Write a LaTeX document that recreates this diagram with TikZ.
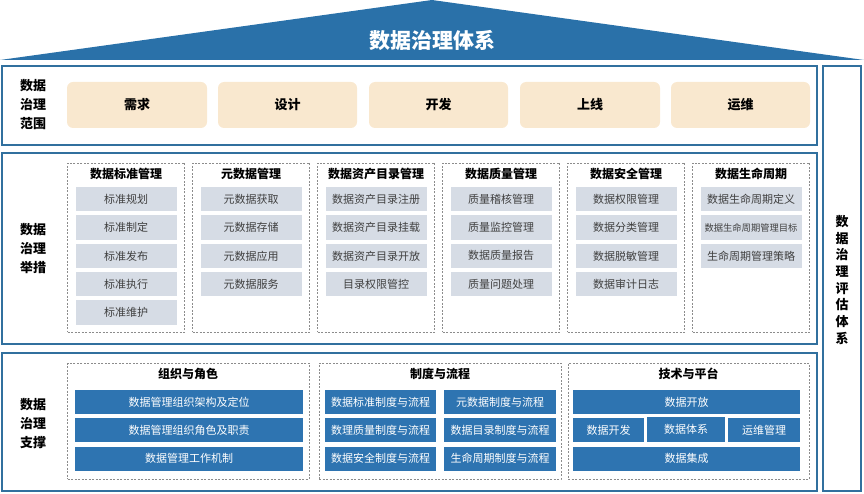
\documentclass[tikz,border=0pt]{standalone}
\usepackage{fontspec}
\setmainfont{Noto Sans CJK SC}
\definecolor{frameblue}{HTML}{31709E}
\definecolor{roofblue}{HTML}{2A71A9}
\definecolor{barblue}{HTML}{2E74B1}
\definecolor{itemgrey}{HTML}{D6DCE5}
\definecolor{beige}{HTML}{F9E8CF}
\definecolor{textgrey}{HTML}{404040}
\definecolor{dashgrey}{HTML}{8C8C8C}
\newcommand\mybox[7]{\node[#6, minimum width={(#4)-(#2)}, minimum height={(#5)-(#3)}] (#1) at ({((#2)+(#4))/2},{((#3)+(#5))/2}) {#7};}
\tikzset{
  base/.style={inner sep=0pt, outer sep=0pt, rectangle},
  frame/.style={base, draw=frameblue, line width=2.4pt},
  scopebox/.style={base, fill=beige, rounded corners=6pt, font=\fontsize{13}{15}\selectfont\bfseries},
  groupbox/.style={base, draw=dashgrey, line width=0.7pt, dash pattern=on 2pt off 1.5pt},
  header/.style={inner sep=0pt, font=\fontsize{12}{14}\selectfont\bfseries},
  greyitem/.style={base, fill=itemgrey, text=textgrey, font=\fontsize{11}{13}\selectfont},
  blueitem/.style={base, fill=barblue, text=white, font=\fontsize{11}{13}\selectfont},
  rowlabel/.style={inner sep=0pt, align=center, font=\fontsize{13}{19}\selectfont\bfseries},
}
\begin{document}
\begin{tikzpicture}[x=1pt,y=-1pt]
\useasboundingbox (0,0) rectangle (864,494);
% roof
\fill[roofblue] (0,60) -- (432,0) -- (864,60) -- cycle;
\node[inner sep=0pt, text=white, font=\fontsize{21}{24}\selectfont\bfseries] (title) at (432,40) {数据治理体系};
% frames
\mybox{f1}{2.2}{66.2}{816.8}{144.8}{frame}{}
\mybox{f2}{2.2}{153.2}{816.8}{343.8}{frame}{}
\mybox{f3}{2.2}{353.2}{816.8}{490.8}{frame}{}
\mybox{f4}{823.2}{66.2}{860.8}{490.8}{frame}{}
\node[rowlabel] (l1) at (33,105) {数据\\治理\\范围};
\node[rowlabel] (l2) at (33,249) {数据\\治理\\举措};
\node[rowlabel] (l3) at (33,424) {数据\\治理\\支撑};
\node[rowlabel, font=\fontsize{13}{16.7}\selectfont\bfseries] (l4) at (842,280) {数\\据\\治\\理\\评\\估\\体\\系};
% scope
\mybox{s1}{67}{82}{207}{128}{scopebox}{需求}
\mybox{s2}{218}{82}{357}{128}{scopebox}{设计}
\mybox{s3}{369}{82}{508}{128}{scopebox}{开发}
\mybox{s4}{520}{82}{660}{128}{scopebox}{上线}
\mybox{s5}{671}{82}{810}{128}{scopebox}{运维}
% measures
\mybox{g1}{67.5}{163}{184.5}{332}{groupbox}{}
\mybox{g2}{192.5}{163}{309.5}{332}{groupbox}{}
\mybox{g3}{317.5}{163}{434.5}{332}{groupbox}{}
\mybox{g4}{442.5}{163}{559.5}{332}{groupbox}{}
\mybox{g5}{567.5}{163}{684.5}{332}{groupbox}{}
\mybox{g6}{692.5}{163}{809.5}{332}{groupbox}{}
\node[header] (h1) at (126,174) {数据标准管理};
\node[header] (h2) at (251,174) {元数据管理};
\node[header] (h3) at (376,174) {数据资产目录管理};
\node[header] (h4) at (501,174) {数据质量管理};
\node[header] (h5) at (626,174) {数据安全管理};
\node[header] (h6) at (751,174) {数据生命周期};
% column 1
\mybox{a1}{75.5}{187}{176.5}{211.5}{greyitem}{标准规划}
\mybox{a2}{75.5}{215.3}{176.5}{239.8}{greyitem}{标准制定}
\mybox{a3}{75.5}{243.6}{176.5}{268.1}{greyitem}{标准发布}
\mybox{a4}{75.5}{271.9}{176.5}{296.4}{greyitem}{标准执行}
\mybox{a5}{75.5}{300.2}{176.5}{324.7}{greyitem}{标准维护}
% column 2
\mybox{b1}{200.5}{187}{301.5}{211.5}{greyitem}{元数据获取}
\mybox{b2}{200.5}{215.3}{301.5}{239.8}{greyitem}{元数据存储}
\mybox{b3}{200.5}{243.6}{301.5}{268.1}{greyitem}{元数据应用}
\mybox{b4}{200.5}{271.9}{301.5}{296.4}{greyitem}{元数据服务}
% column 3
\mybox{c1}{325.5}{187}{426.5}{211.5}{greyitem}{数据资产目录注册}
\mybox{c2}{325.5}{215.3}{426.5}{239.8}{greyitem}{数据资产目录挂载}
\mybox{c3}{325.5}{243.6}{426.5}{268.1}{greyitem}{数据资产目录开放}
\mybox{c4}{325.5}{271.9}{426.5}{296.4}{greyitem}{目录权限管控}
% column 4
\mybox{d1}{450.5}{187}{551.5}{211.5}{greyitem}{质量稽核管理}
\mybox{d2}{450.5}{215.3}{551.5}{239.8}{greyitem}{质量监控管理}
\mybox{d3}{450.5}{243.6}{551.5}{268.1}{greyitem}{数据质量报告}
\mybox{d4}{450.5}{271.9}{551.5}{296.4}{greyitem}{质量问题处理}
% column 5
\mybox{e1}{575.5}{187}{676.5}{211.5}{greyitem}{数据权限管理}
\mybox{e2}{575.5}{215.3}{676.5}{239.8}{greyitem}{数据分类管理}
\mybox{e3}{575.5}{243.6}{676.5}{268.1}{greyitem}{数据脱敏管理}
\mybox{e4}{575.5}{271.9}{676.5}{296.4}{greyitem}{数据审计日志}
% column 6
\mybox{k1}{700.5}{187}{801.5}{211.5}{greyitem}{数据生命周期定义}
\mybox{k2}{700.5}{215.3}{801.5}{239.8}{greyitem, font=\fontsize{9.3}{11}\selectfont}{数据生命周期管理目标}
\mybox{k3}{700.5}{243.6}{801.5}{268.1}{greyitem}{生命周期管理策略}
% support
\mybox{p1}{67.5}{363}{309}{479}{groupbox}{}
\mybox{p2}{319}{363}{561}{479}{groupbox}{}
\mybox{p3}{568}{363}{809}{479}{groupbox}{}
\node[header] (ph1) at (188,374) {组织与角色};
\node[header] (ph2) at (440,374) {制度与流程};
\node[header] (ph3) at (688.5,374) {技术与平台};
\mybox{o1}{75}{390}{303}{414}{blueitem}{数据管理组织架构及定位}
\mybox{o2}{75}{418}{303}{442}{blueitem}{数据管理组织角色及职责}
\mybox{o3}{75}{446.5}{303}{470.5}{blueitem}{数据管理工作机制}
\mybox{r1}{325}{390}{436}{414}{blueitem}{数据标准制度与流程}
\mybox{r2}{325}{418}{436}{442}{blueitem}{数理质量制度与流程}
\mybox{r3}{325}{446.5}{436}{470.5}{blueitem}{数据安全制度与流程}
\mybox{r4}{444}{390}{556}{414}{blueitem}{元数据制度与流程}
\mybox{r5}{444}{418}{556}{442}{blueitem}{数据目录制度与流程}
\mybox{r6}{444}{446.5}{556}{470.5}{blueitem}{生命周期制度与流程}
\mybox{t1}{573}{390}{800}{414}{blueitem}{数据开放}
\mybox{t2}{573}{418}{644}{442}{blueitem}{数据开发}
\mybox{t3}{647}{417}{725}{442}{blueitem}{数据体系}
\mybox{t4}{728}{418}{800}{442}{blueitem}{运维管理}
\mybox{t5}{573}{446.5}{800}{470.5}{blueitem}{数据集成}
\end{tikzpicture}
\end{document}
